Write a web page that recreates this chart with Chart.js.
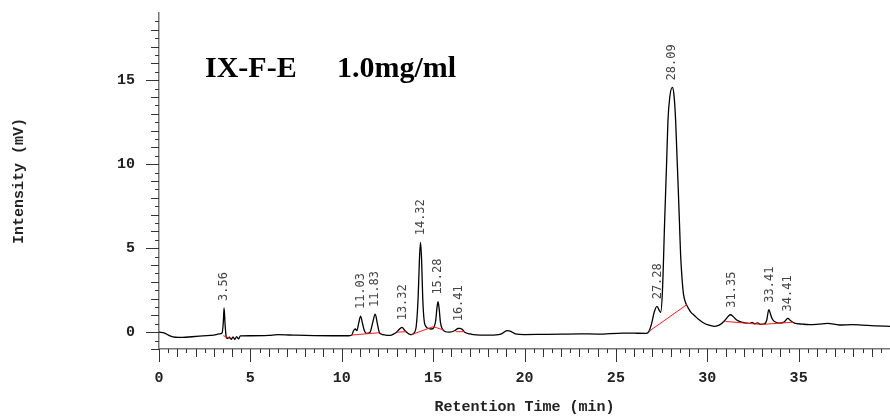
<!DOCTYPE html>
<html>
<head>
<meta charset="utf-8">
<title>IX-F-E 1.0mg/ml chromatogram</title>
<script src="https://cdn.jsdelivr.net/npm/chart.js@4/dist/chart.umd.min.js"></script>
<style>
  html, body { margin: 0; padding: 0; background: #fff; }
  #chrom { display: block; }
</style>
</head>
<body>
<canvas id="chrom" width="890" height="417"></canvas>
<script>
/* ============================================================
   Chromatogram — IX-F-E 1.0mg/ml
   ============================================================ */

// detector trace
const traceTime = [
  0.0, 0.3, 0.6, 0.9, 1.3, 1.8, 2.4, 3.0, 3.3, 3.45,
  3.52, 3.56, 3.62, 3.68, 3.75, 3.85, 3.95, 4.05, 4.15, 4.25,
  4.35, 4.45, 5.0, 6.0, 6.5, 7.5, 8.5, 9.5, 10.4, 10.55,
  10.65, 10.75, 10.83, 10.93, 11.03, 11.13, 11.25, 11.35, 11.55, 11.70,
  11.83, 11.95, 12.05, 12.15, 12.4, 12.65, 12.85, 13.0, 13.1, 13.3,
  13.45, 13.6, 13.78, 13.95, 14.08, 14.18, 14.25, 14.31, 14.37, 14.43,
  14.51, 14.62, 14.75, 14.91, 15.05, 15.14, 15.21, 15.27, 15.33, 15.40,
  15.5, 15.62, 15.9, 16.2, 16.35, 16.46, 16.58, 16.73, 17.0, 17.2,
  18.1, 18.7, 19.05, 19.25, 19.5, 20.0, 21.0, 22.0, 23.0, 24.0,
  25.4, 26.0, 26.66, 26.81, 26.95, 27.1, 27.25, 27.37, 27.45, 27.55,
  27.67, 27.78, 27.85, 27.95, 28.09, 28.18, 28.27, 28.34, 28.41, 28.48,
  28.54, 28.62, 28.70, 28.80, 28.94, 29.1, 29.31, 29.5, 29.76, 30.05,
  30.4, 30.7, 30.95, 31.15, 31.27, 31.4, 31.59, 31.95, 32.3, 32.45,
  32.6, 32.75, 32.9, 33.13, 33.25, 33.37, 33.47, 33.55, 33.7, 33.95,
  34.2, 34.41, 34.55, 34.77, 35.2, 35.59, 36.1, 36.59, 37.23, 37.96,
  38.5, 39.2, 40.0
];
const traceMv = [
  0.00, -0.05, -0.22, -0.30, -0.31, -0.27, -0.22, -0.17, -0.10, -0.05,
  0.60, 1.44, 0.40, -0.30, -0.38, -0.30, -0.42, -0.28, -0.42, -0.26,
  -0.40, -0.22, -0.21, -0.19, -0.15, -0.18, -0.20, -0.21, -0.21, -0.17,
  0.10, 0.19, 0.09, 0.55, 0.96, 0.55, 0.05, -0.07, 0.00, 0.60,
  1.08, 0.50, 0.00, -0.11, -0.17, -0.19, -0.10, 0.00, 0.12, 0.29,
  0.10, -0.05, -0.15, -0.05, 0.40, 2.07, 4.30, 5.35, 4.30, 2.07,
  0.68, 0.32, 0.22, 0.19, 0.30, 0.68, 1.45, 1.82, 1.40, 0.58,
  0.20, 0.06, 0.00, 0.10, 0.22, 0.23, 0.18, 0.00, -0.10, -0.15,
  -0.18, -0.12, 0.09, 0.05, -0.10, -0.14, -0.13, -0.12, -0.10, -0.11,
  -0.05, -0.06, -0.07, 0.05, 0.50, 1.20, 1.54, 1.30, 1.18, 2.50,
  6.64, 10.2, 12.6, 14.0, 14.57, 14.1, 12.6, 10.6, 8.62, 6.50,
  4.65, 3.20, 2.27, 1.80, 1.48, 1.20, 0.98, 0.78, 0.58, 0.43,
  0.35, 0.45, 0.68, 0.95, 1.04, 0.95, 0.74, 0.58, 0.52, 0.58,
  0.50, 0.56, 0.47, 0.49, 0.70, 1.34, 1.05, 0.80, 0.62, 0.54,
  0.60, 0.82, 0.70, 0.54, 0.48, 0.45, 0.48, 0.52, 0.43, 0.45,
  0.42, 0.38, 0.35
];

// integration baselines (red)
const baseTime = [
  [3.52, 3.84],
  [10.55, 12.05],
  [13.0, 13.54],
  [13.81, 15.0, 15.58],
  [16.24, 16.73],
  [26.81, 28.88],
  [31.0, 32.6, 33.1, 34.7]
];
const baseMv = [
  [-0.21, -0.35],
  [-0.17, -0.03],
  [0.0, 0.03],
  [-0.15, 0.33, 0.13],
  [0.03, 0.03],
  [0.05, 1.64],
  [0.64, 0.49, 0.47, 0.60]
];

// peak retention times and apex heights
const peakTimes = [3.56, 11.03, 11.83, 13.32, 14.32, 15.28, 16.41, 27.28, 28.09, 31.35, 33.41, 34.41];
const peakMv    = [1.44, 0.96, 1.08, 0.29, 5.35, 1.82, 0.23, 1.54, 14.57, 1.04, 1.34, 0.82];

const sampleName = 'IX-F-E';
const sampleConc = '1.0mg/ml';
const xTitle = 'Retention Time (min)';
const yTitle = 'Intensity (mV)';

const AXIS_FONT = { family: 'Liberation Mono', weight: 'bold', size: 15 };

function tickLen(v) {
  if (v % 5 === 0) return 13;
  if (v % 1 === 0) return 8;
  return 4;
}

// labels only every 5 units, none at the far ends
function majorLabel(scale) {
  return v => (v % 5 === 0 && v >= 0 && v < scale ? String(v) : '');
}

// fix the axis box sizes so the plot area sits where the original does
function pinBox(size) {
  return s => {
    if (s.isHorizontal()) s.height = size; else s.width = size;
    s.paddingTop = 0;
    s.paddingBottom = 0;
    s.paddingLeft = 0;
    s.paddingRight = 0;
  };
}

// hand-drawn tick marks: long at 5s, medium at 1s, short at halves
const tickMarks = {
  id: 'tickMarks',
  afterDraw(chart) {
    const { ctx, chartArea, scales: { x, y } } = chart;
    ctx.save();
    ctx.strokeStyle = '#333';
    ctx.lineWidth = 1;
    ctx.beginPath();
    x.ticks.forEach(t => {
      if (t.value >= x.max) return;
      const px = Math.round(x.getPixelForValue(t.value)) + 0.5;
      ctx.moveTo(px, chartArea.bottom);
      ctx.lineTo(px, chartArea.bottom + tickLen(t.value));
    });
    y.ticks.forEach(t => {
      if (t.value >= y.max) return;
      const py = Math.round(y.getPixelForValue(t.value)) + 0.5;
      ctx.moveTo(chartArea.left, py);
      ctx.lineTo(chartArea.left - tickLen(t.value), py);
    });
    ctx.stroke();
    ctx.restore();
  }
};

// vertical retention-time labels above each apex, plus the sample heading
const peakLabels = {
  id: 'peakLabels',
  afterDatasetsDraw(chart) {
    const { ctx, scales: { x, y } } = chart;
    ctx.save();
    ctx.fillStyle = '#444';
    ctx.font = '12px "DejaVu Sans Mono"';
    ctx.textAlign = 'left';
    ctx.textBaseline = 'middle';
    peakTimes.forEach((t, i) => {
      ctx.save();
      ctx.translate(x.getPixelForValue(t), y.getPixelForValue(peakMv[i]) - 7);
      ctx.rotate(-Math.PI / 2);
      ctx.fillText(t.toFixed(2), 0, 0);
      ctx.restore();
    });

    ctx.fillStyle = '#000';
    ctx.font = 'bold 30px "Liberation Serif"';
    ctx.textBaseline = 'alphabetic';
    ctx.fillText(sampleName, 205, 77);
    ctx.fillText(sampleConc, 337, 77);
    ctx.restore();
  }
};

const datasets = [{
  label: 'trace',
  data: traceTime.map((t, i) => ({ x: t, y: traceMv[i] })),
  borderColor: '#000',
  borderWidth: 1.3,
  pointRadius: 0,
  cubicInterpolationMode: 'monotone',
  order: 1,
}];

baseTime.forEach((seg, i) => {
  datasets.push({
    label: 'baseline ' + (i + 1),
    data: seg.map((t, j) => ({ x: t, y: baseMv[i][j] })),
    borderColor: '#ff1a1a',
    borderWidth: 1,
    pointRadius: 0,
    tension: 0,
    order: 0,
  });
});

new Chart(document.getElementById('chrom'), {
  type: 'line',
  data: { datasets },
  options: {
    responsive: false,
    animation: false,
    events: [],
    layout: { padding: { left: 0, top: 13, right: 0, bottom: 0 } },
    plugins: {
      legend: { display: false },
      tooltip: { enabled: false },
    },
    scales: {
      x: {
        type: 'linear',
        min: 0,
        max: 40,
        afterFit: pinBox(68),
        grid: { display: false, drawTicks: false },
        border: { display: true, color: '#777', width: 1.5 },
        ticks: {
          stepSize: 0.5,
          autoSkip: false,
          maxRotation: 0,
          padding: 20,
          color: '#222',
          font: AXIS_FONT,
          callback: majorLabel(40),
        },
        title: {
          display: true,
          text: xTitle,
          color: '#222',
          font: { family: 'Liberation Mono', weight: 'bold', size: 15 },
          padding: { top: 0, bottom: 1 },
        },
      },
      y: {
        min: -1,
        max: 19,
        afterFit: pinBox(159),
        grid: { display: false, drawTicks: false },
        border: { display: true, color: '#777', width: 1.5 },
        ticks: {
          stepSize: 0.5,
          autoSkip: false,
          padding: 24,
          color: '#222',
          font: AXIS_FONT,
          callback: majorLabel(19),
        },
        title: {
          display: true,
          text: yTitle,
          color: '#222',
          font: { family: 'Liberation Mono', weight: 'bold', size: 15 },
          padding: { top: 10, bottom: 0 },
        },
      },
    },
  },
  plugins: [tickMarks, peakLabels],
});
</script>
</body>
</html>
